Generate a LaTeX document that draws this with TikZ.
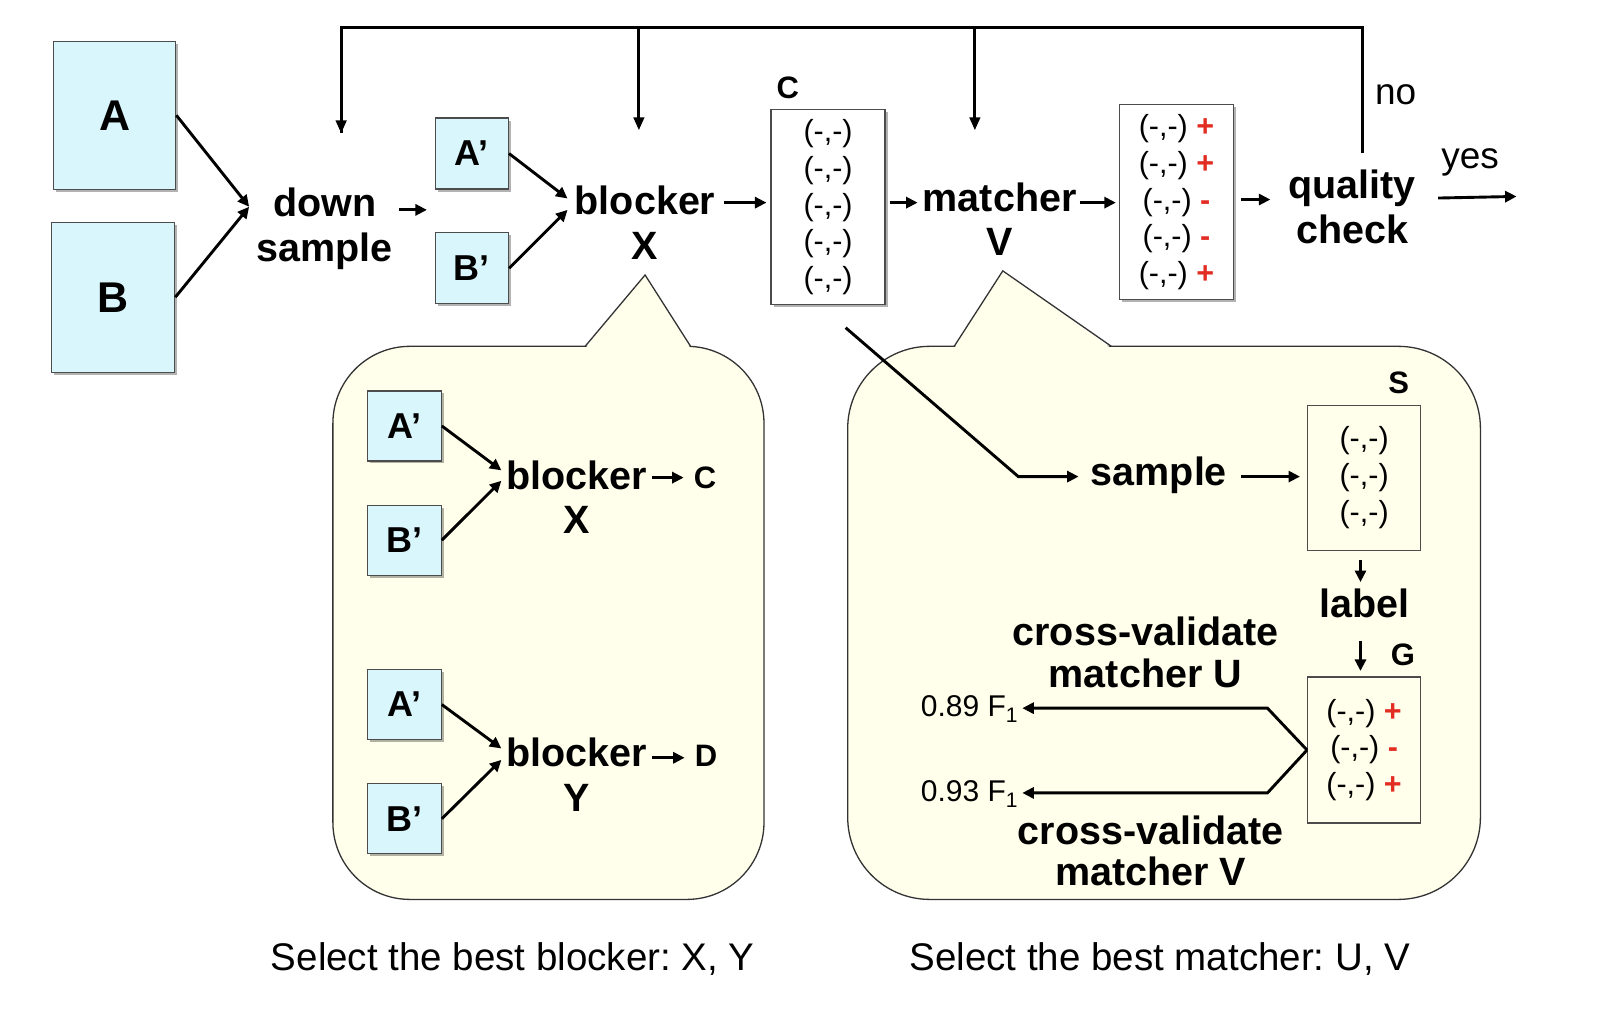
\documentclass[tikz,border=0pt]{standalone}
\usepackage{fontspec}
\setmainfont{Liberation Sans}
\usetikzlibrary{arrows.meta,shadows}
\definecolor{boxfill}{RGB}{217,246,252}
\definecolor{callfill}{RGB}{255,255,236}
\definecolor{signred}{RGB}{226,45,35}
\newcommand{\pp}{\textcolor{signred}{\bfseries +}}
\newcommand{\mm}{\textcolor{signred}{\bfseries -}}
\frenchspacing
\begin{document}
\begin{tikzpicture}[x=1.0338pt,y=-1.0338pt,
  every node/.style={inner sep=0pt},
  shad/.style={drop shadow={shadow xshift=2.5pt,shadow yshift=-2.5pt,opacity=0.3,fill=black}},
  bx/.style={draw=black!70,line width=1.2pt,fill=boxfill,shad,inner sep=0pt},
  lst/.style={draw=black!70,line width=1.2pt,align=center,inner sep=0pt,font=\fontsize{30.5}{36.8}\selectfont},
  bigB/.style={font=\bfseries\fontsize{39.5}{45.5}\selectfont},
  bigA/.style={font=\bfseries\fontsize{43}{50}\selectfont},
  prim/.style={font=\bfseries\fontsize{36}{40}\selectfont},
  lab/.style={font=\bfseries\fontsize{31}{36}\selectfont},
  reg/.style={font=\fontsize{37}{44}\selectfont},
  captxt/.style={font=\fontsize{38.5}{44}\selectfont},
  small/.style={font=\fontsize{30}{36}\selectfont},
  arr/.style={line width=2.9pt,-{Triangle[length=11.5pt,width=11pt]}},
  fb/.style={line width=2.9pt},
  fbarr/.style={line width=2.9pt,-{Triangle[length=13pt,width=10.5pt]}},
  call/.style={draw=black!80,line width=1.3pt,fill=callfill},
]
\useasboundingbox (0,0) rectangle (1568,980);
\fill[white] (0,0) rectangle (1568,980);

% ---------- callouts (background) ----------
\draw[call,rounded corners=77pt] (322,335) rectangle (739,870);
\fill[callfill] (566,337) -- (624,266) -- (668,337) -- cycle;
\draw[draw=black!80,line width=1.3pt] (566,335) -- (624,266) -- (668,335);

\draw[call,rounded corners=82pt] (820,335) rectangle (1432,870);
\fill[callfill] (923,337) -- (970,262) -- (1075,337) -- cycle;
\draw[draw=black!80,line width=1.3pt] (923,335) -- (970,262) -- (1075,335);

% ---------- top row ----------
\node[bx,bigA,minimum width=122pt,minimum height=148pt] (A) at (111,111.5) {A};
\node[bx,bigA,minimum width=123pt,minimum height=150pt] (B) at (109.5,287.5) {B};
\node[bigB] (down) at (314,196) {down};
\node[bigB] (samp) at (314,243) {sample};
\coordinate (dsin) at (241,200);
\draw[arr] (A.east) -- (dsin);
\draw[arr] (B.east) -- (dsin);
\coordinate (dsout) at (386,203);
\coordinate (apin) at (413,203);
\draw[arr] (dsout) -- (apin);

\node[bx,prim,minimum width=73pt,minimum height=71pt] (Ap) at (456.5,148.5) {A’};
\node[bx,prim,minimum width=73pt,minimum height=71pt] (Bp) at (456.5,259.5) {B’};
\node[bigB] (blk) at (624,194) {blocker};
\node[bigB] (X) at (624,238) {X};
\coordinate (blkin1) at (549,192);
\coordinate (blkin2) at (549,203);
\draw[arr] (Ap.east) -- (blkin1);
\draw[arr] (Bp.east) -- (blkin2);

\node[lab] (Clab) at (762,85) {C};
\node[lst,fill=white,shad,minimum width=114pt,minimum height=195pt] (C) at (801,200.5)
  {(-,-)\\(-,-)\\(-,-)\\(-,-)\\(-,-)};
\draw[arr,shorten <=8pt,shorten >=4pt] (blk.east |- 0,196) -- (C.west |- 0,196);

\node[bigB] (mat) at (967,191) {matcher};
\node[bigB] (V) at (967,234) {V};
\draw[arr,shorten <=4pt,shorten >=5pt] (C.east |- 0,196) -- (mat.west |- 0,196);

\node[lst,fill=white,shad,minimum width=114pt,minimum height=195pt] (R) at (1138,195.5)
  {(-,-) \pp\\(-,-) \pp\\(-,-) \mm\\(-,-) \mm\\(-,-) \pp};
\draw[arr,shorten <=3pt,shorten >=3pt] (mat.east |- 0,196) -- (R.west |- 0,196);

\node[bigB,align=center] (qc) at (1308,200) {quality\\check};
\draw[arr,shorten <=7pt,shorten >=18pt] (R.east |- 0,193) -- (qc.west |- 0,193);

\node[reg] (yes) at (1422,157) {yes};
\coordinate (yesend) at (1467,190);
\draw[arr,shorten <=22pt] (qc.east |- 0,192) -- (yesend);
\node[reg] (no) at (1350,92) {no};

% ---------- feedback loop ----------
\coordinate (qtop) at (1318,148);
\coordinate (fbR) at (1318,27);
\coordinate (fbL) at (330,27);
\coordinate (fb1) at (330,129);
\coordinate (fb2t) at (618,27);
\coordinate (fb2) at (618,126);
\coordinate (fb3t) at (943,27);
\coordinate (fb3) at (943,126);
\draw[fb,line join=miter] (qtop) -- (fbR) -- (fbL) -- (fb1);
\draw[fbarr] (fbL) -- (fb1);
\draw[fbarr] (fb2t) -- (fb2);
\draw[fbarr] (fb3t) -- (fb3);

% ---------- callout 1: blockers ----------
\node[bx,prim,minimum width=74pt,minimum height=70pt] (Ap1) at (391,412) {A’};
\node[bx,prim,minimum width=74pt,minimum height=70pt] (Bp1) at (391,522.5) {B’};
\node[bigB] (blk1) at (558,460) {blocker};
\node[bigB] (X1) at (558,503) {X};
\node[lab] (C1) at (682,462) {C};
\coordinate (b1in1) at (485,455);
\coordinate (b1in2) at (485,465);
\draw[arr] (Ap1.east) -- (b1in1);
\draw[arr] (Bp1.east) -- (b1in2);
\draw[arr,shorten <=5pt,shorten >=10pt] (blk1.east |- 0,462) -- (C1.west |- 0,462);

\node[bx,prim,minimum width=74pt,minimum height=70pt] (Ap2) at (391,681.5) {A’};
\node[bx,prim,minimum width=74pt,minimum height=70pt] (Bp2) at (391,792) {B’};
\node[bigB] (blk2) at (558,728) {blocker};
\node[bigB] (Y2) at (558,772) {Y};
\node[lab] (D2) at (683,731) {D};
\coordinate (b2in1) at (485,724);
\coordinate (b2in2) at (485,735);
\draw[arr] (Ap2.east) -- (b2in1);
\draw[arr] (Bp2.east) -- (b2in2);
\draw[arr,shorten <=5pt,shorten >=10pt] (blk2.east |- 0,733) -- (D2.west |- 0,733);

% ---------- callout 2: matchers ----------
\coordinate (cs) at (818,317);
\coordinate (cbend) at (985,461);
\node[bigB] (smp) at (1121,460) {sample};
\draw[arr,line join=miter,shorten >=12pt] (cs) -- (cbend) -- (smp.west |- 0,461);

\node[lab] (Slab) at (1353,370) {S};
\node[lst,minimum width=113pt,minimum height=145pt] (S) at (1319.5,462)
  {(-,-)\\(-,-)\\(-,-)};
\draw[arr,shorten <=14pt,shorten >=7pt] (smp.east |- 0,461) -- (S.west |- 0,461);

\node[bigB] (lbl) at (1320,584) {label};
\coordinate (la1) at (1316,542);
\coordinate (la2) at (1316,563);
\coordinate (lb1) at (1316,620);
\coordinate (lb2) at (1316,649);
\draw[arr] (la1) -- (la2);

\node[lab] (Glab) at (1357,633) {G};
\node[lst,minimum width=113pt,minimum height=146pt] (G) at (1319.5,725.5)
  {(-,-) \pp\\(-,-) \mm\\(-,-) \pp};
\draw[arr] (lb1) -- (lb2);

\node[small,anchor=east] (f89) at (985,686) {0.89 F\textsubscript{1}};
\node[small,anchor=east] (f93) at (985,768) {0.93 F\textsubscript{1}};
\coordinate (gU) at (1226,685);
\coordinate (gV) at (1226,767);
\draw[arr,line join=miter,shorten >=4pt] (G.west) -- (gU) -- (f89.east |- 0,685);
\draw[arr,line join=miter,shorten >=4pt] (G.west) -- (gV) -- (f93.east |- 0,767);

\node[bigB,align=center,font=\bfseries\fontsize{39.5}{41.4}\selectfont] (cvU) at (1108,631) {cross-validate\\matcher U};
\node[bigB,align=center,font=\bfseries\fontsize{39.5}{41.4}\selectfont] (cvV) at (1113,823) {cross-validate\\matcher V};

% ---------- captions ----------
\node[captxt] (cap1) at (496,928) {Select the best blocker: X, Y};
\node[captxt] (cap2) at (1122,928) {Select the best matcher: U, V};
\end{tikzpicture}
\end{document}
